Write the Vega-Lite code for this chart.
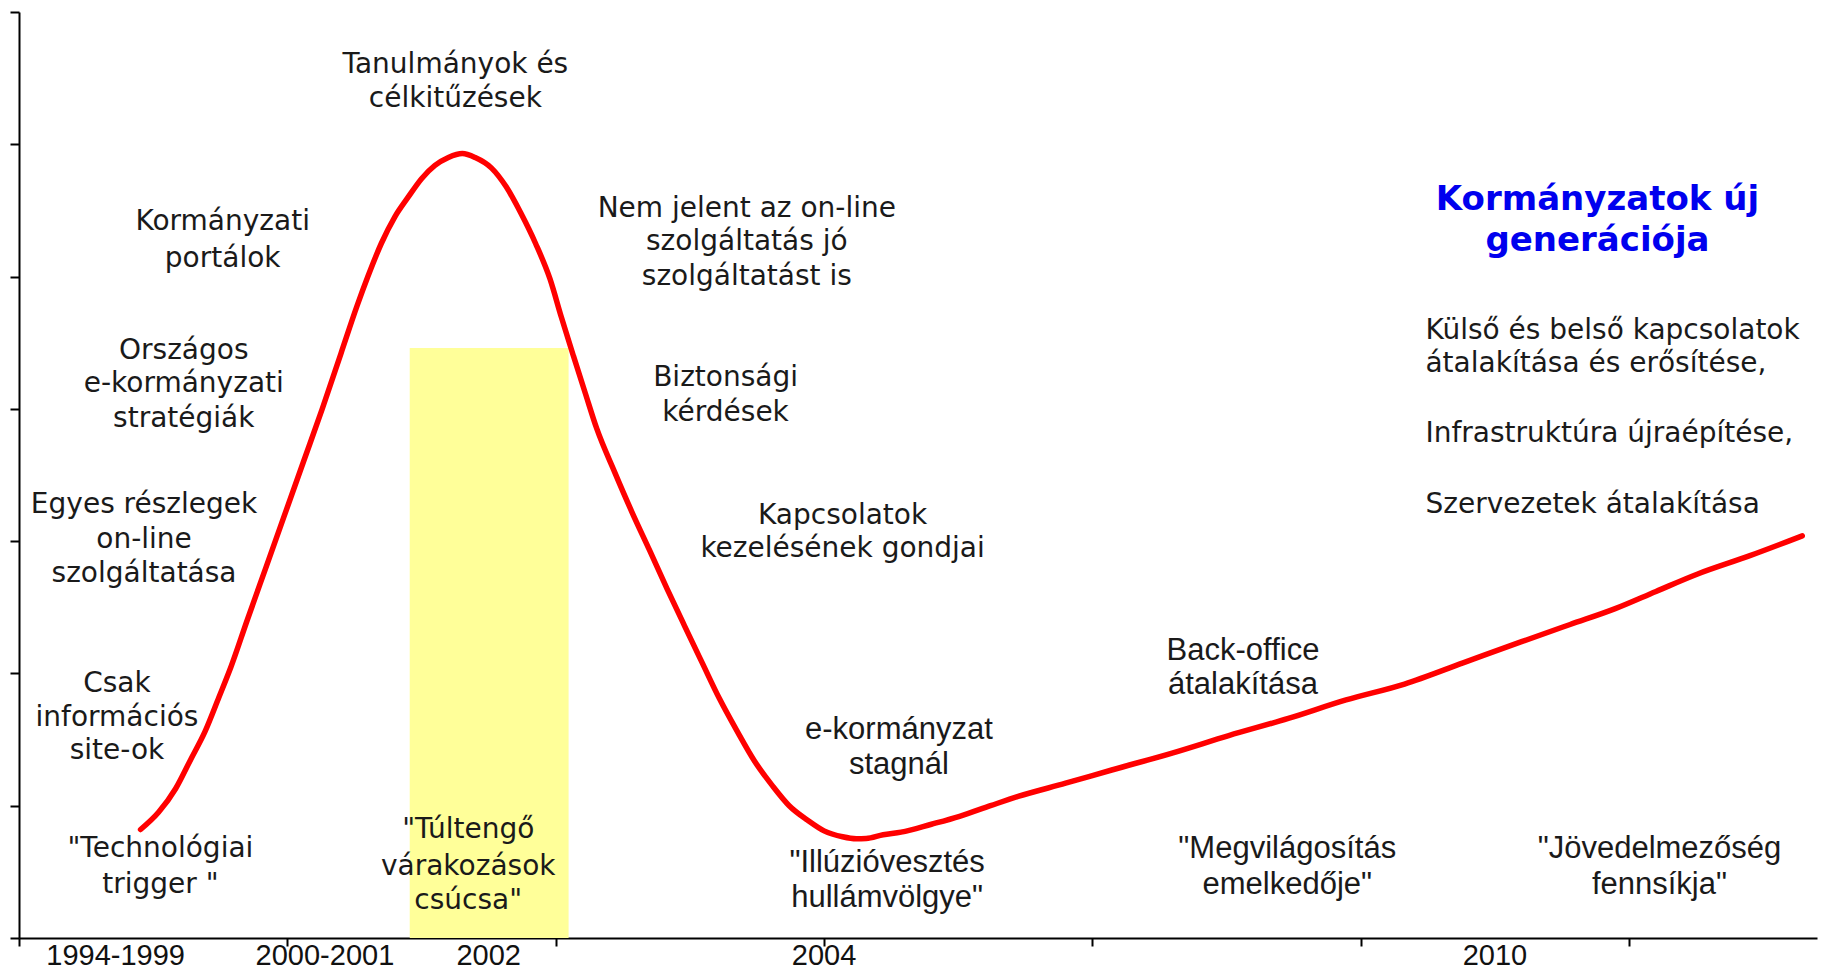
{
  "$schema": "https://vega.github.io/schema/vega-lite/v6.json",
  "width": 1798,
  "height": 926,
  "autosize": {"type": "none"},
  "padding": {"left": 19, "top": 12, "right": 19, "bottom": 32},
  "background": "white",
  "config": {"view": {"stroke": null}},
  "datasets": {
    "band": [{"x1": 1.456, "x2": 2.048, "y1": 0, "y2": 4.46}],
    "curve": [
      {"x": 0.453, "y": 0.82}, {"x": 0.52, "y": 0.95}, {"x": 0.584, "y": 1.13}, {"x": 0.64, "y": 1.35},
      {"x": 0.693, "y": 1.56}, {"x": 0.745, "y": 1.82}, {"x": 0.79, "y": 2.05}, {"x": 0.85, "y": 2.4},
      {"x": 0.92, "y": 2.8}, {"x": 0.99, "y": 3.2}, {"x": 1.06, "y": 3.6}, {"x": 1.13, "y": 4.0},
      {"x": 1.2, "y": 4.42}, {"x": 1.26, "y": 4.78}, {"x": 1.3, "y": 5.0}, {"x": 1.35, "y": 5.25},
      {"x": 1.4, "y": 5.45}, {"x": 1.45, "y": 5.6}, {"x": 1.5, "y": 5.74}, {"x": 1.55, "y": 5.84},
      {"x": 1.6, "y": 5.9}, {"x": 1.652, "y": 5.93}, {"x": 1.7, "y": 5.9}, {"x": 1.761, "y": 5.82},
      {"x": 1.815, "y": 5.68}, {"x": 1.87, "y": 5.48}, {"x": 1.925, "y": 5.25}, {"x": 1.979, "y": 4.98},
      {"x": 2.02, "y": 4.7}, {"x": 2.066, "y": 4.4}, {"x": 2.11, "y": 4.12}, {"x": 2.153, "y": 3.85},
      {"x": 2.22, "y": 3.52}, {"x": 2.284, "y": 3.22}, {"x": 2.35, "y": 2.93}, {"x": 2.415, "y": 2.64},
      {"x": 2.48, "y": 2.36}, {"x": 2.546, "y": 2.08}, {"x": 2.61, "y": 1.81}, {"x": 2.677, "y": 1.56},
      {"x": 2.74, "y": 1.34}, {"x": 2.808, "y": 1.15}, {"x": 2.87, "y": 1.0}, {"x": 2.939, "y": 0.89},
      {"x": 3.0, "y": 0.81}, {"x": 3.069, "y": 0.765}, {"x": 3.12, "y": 0.75}, {"x": 3.157, "y": 0.752},
      {"x": 3.22, "y": 0.78}, {"x": 3.287, "y": 0.8}, {"x": 3.4, "y": 0.86}, {"x": 3.505, "y": 0.92},
      {"x": 3.62, "y": 1.0}, {"x": 3.723, "y": 1.07}, {"x": 3.9, "y": 1.17}, {"x": 4.072, "y": 1.27},
      {"x": 4.3, "y": 1.4}, {"x": 4.508, "y": 1.53}, {"x": 4.73, "y": 1.66}, {"x": 4.945, "y": 1.8},
      {"x": 5.163, "y": 1.92}, {"x": 5.381, "y": 2.08}, {"x": 5.599, "y": 2.24}, {"x": 5.78, "y": 2.37},
      {"x": 5.948, "y": 2.49}, {"x": 6.1, "y": 2.62}, {"x": 6.253, "y": 2.75}, {"x": 6.45, "y": 2.89},
      {"x": 6.645, "y": 3.04}
    ],
    "periods": [
      {"x": 0.36, "y": -0.135, "t": "1994-1999"},
      {"x": 1.14, "y": -0.135, "t": "2000-2001"},
      {"x": 1.75, "y": -0.135, "t": "2002"},
      {"x": 3.0, "y": -0.135, "t": "2004"},
      {"x": 5.5, "y": -0.135, "t": "2010"}
    ],
    "notes": [
      {"kind": "wide", "x": 1.626, "y": 6.6, "t": "Tanulmányok és"},
      {"kind": "wide", "x": 1.626, "y": 6.34, "t": "célkitűzések"},
      {"kind": "wide", "x": 0.759, "y": 5.41, "t": "Kormányzati"},
      {"kind": "wide", "x": 0.759, "y": 5.13, "t": "portálok"},
      {"kind": "wide", "x": 0.614, "y": 4.44, "t": "Országos"},
      {"kind": "wide", "x": 0.614, "y": 4.19, "t": "e-kormányzati"},
      {"kind": "wide", "x": 0.614, "y": 3.92, "t": "stratégiák"},
      {"kind": "wide", "x": 0.466, "y": 3.27, "t": "Egyes részlegek"},
      {"kind": "wide", "x": 0.466, "y": 3.01, "t": "on-line"},
      {"kind": "wide", "x": 0.466, "y": 2.75, "t": "szolgáltatása"},
      {"kind": "wide", "x": 0.365, "y": 1.92, "t": "Csak"},
      {"kind": "wide", "x": 0.365, "y": 1.66, "t": "információs"},
      {"kind": "wide", "x": 0.365, "y": 1.41, "t": "site-ok"},
      {"kind": "wide", "x": 0.527, "y": 0.673, "t": "\"Technológiai"},
      {"kind": "wide", "x": 0.527, "y": 0.398, "t": "trigger \""},
      {"kind": "wide", "x": 1.674, "y": 0.814, "t": "\"Túltengő"},
      {"kind": "wide", "x": 1.674, "y": 0.54, "t": "várakozások"},
      {"kind": "wide", "x": 1.674, "y": 0.283, "t": "csúcsa\""},
      {"kind": "wide", "x": 2.712, "y": 5.51, "t": "Nem jelent az on-line"},
      {"kind": "wide", "x": 2.712, "y": 5.26, "t": "szolgáltatás jó"},
      {"kind": "wide", "x": 2.712, "y": 5.0, "t": "szolgáltatást is"},
      {"kind": "wide", "x": 2.633, "y": 4.23, "t": "Biztonsági"},
      {"kind": "wide", "x": 2.633, "y": 3.97, "t": "kérdések"},
      {"kind": "wide", "x": 3.069, "y": 3.19, "t": "Kapcsolatok"},
      {"kind": "wide", "x": 3.069, "y": 2.94, "t": "kezelésének gondjai"},
      {"kind": "narrow", "x": 3.279, "y": 1.57, "t": "e-kormányzat"},
      {"kind": "narrow", "x": 3.279, "y": 1.31, "t": "stagnál"},
      {"kind": "narrow", "x": 3.235, "y": 0.566, "t": "\"Illúzióvesztés"},
      {"kind": "narrow", "x": 3.235, "y": 0.301, "t": "hullámvölgye\""},
      {"kind": "narrow", "x": 4.561, "y": 2.17, "t": "Back-office"},
      {"kind": "narrow", "x": 4.561, "y": 1.91, "t": "átalakítása"},
      {"kind": "narrow", "x": 4.726, "y": 0.673, "t": "\"Megvilágosítás"},
      {"kind": "narrow", "x": 4.726, "y": 0.398, "t": "emelkedője\""},
      {"kind": "narrow", "x": 6.113, "y": 0.673, "t": "\"Jövedelmezőség"},
      {"kind": "narrow", "x": 6.113, "y": 0.398, "t": "fennsíkja\""},
      {"kind": "title", "x": 5.882, "y": 5.58, "t": "Kormányzatok új"},
      {"kind": "title", "x": 5.882, "y": 5.27, "t": "generációja"},
      {"kind": "list", "x": 5.241, "y": 4.59, "t": "Külső és belső kapcsolatok"},
      {"kind": "list", "x": 5.241, "y": 4.34, "t": "átalakítása és erősítése,"},
      {"kind": "list", "x": 5.241, "y": 3.81, "t": "Infrastruktúra  újraépítése,"},
      {"kind": "list", "x": 5.241, "y": 3.27, "t": "Szervezetek átalakítása"}
    ]
  },
  "layer": [
    {
      "data": {"name": "band"},
      "mark": {"type": "rect", "color": "#FFFF99"},
      "encoding": {
        "x": {
          "field": "x1", "type": "quantitative",
          "scale": {"domain": [0, 6.7], "nice": false, "zero": false},
          "axis": {
            "title": null, "grid": false, "labels": false,
            "values": [0, 1, 2, 3, 4, 5, 6],
            "domainColor": "#000", "domainWidth": 2,
            "tickColor": "#000", "tickWidth": 2, "tickSize": 8
          }
        },
        "x2": {"field": "x2"},
        "y": {
          "field": "y1", "type": "quantitative",
          "scale": {"domain": [0, 7], "nice": false, "zero": false},
          "axis": {
            "title": null, "grid": false, "labels": false,
            "values": [0, 1, 2, 3, 4, 5, 6, 7],
            "domainColor": "#000", "domainWidth": 2,
            "tickColor": "#000", "tickWidth": 2, "tickSize": 9
          }
        },
        "y2": {"field": "y2"}
      }
    },
    {
      "data": {"name": "curve"},
      "mark": {"type": "line", "color": "#FF0000", "strokeWidth": 5.5, "interpolate": "monotone", "strokeCap": "round"},
      "encoding": {
        "x": {"field": "x", "type": "quantitative"},
        "y": {"field": "y", "type": "quantitative"}
      }
    },
    {
      "data": {"name": "periods"},
      "mark": {"type": "text", "font": "Liberation Sans", "fontSize": 29, "color": "#111", "align": "center", "baseline": "middle"},
      "encoding": {
        "x": {"field": "x", "type": "quantitative"},
        "y": {"field": "y", "type": "quantitative"},
        "text": {"field": "t"}
      }
    },
    {
      "data": {"name": "notes"},
      "transform": [{"filter": "datum.kind == 'wide'"}],
      "mark": {"type": "text", "font": "DejaVu Sans", "fontSize": 28, "color": "#1a1a1a", "align": "center", "baseline": "middle"},
      "encoding": {
        "x": {"field": "x", "type": "quantitative"},
        "y": {"field": "y", "type": "quantitative"},
        "text": {"field": "t"}
      }
    },
    {
      "data": {"name": "notes"},
      "transform": [{"filter": "datum.kind == 'narrow'"}],
      "mark": {"type": "text", "font": "Liberation Sans", "fontSize": 31, "color": "#1a1a1a", "align": "center", "baseline": "middle"},
      "encoding": {
        "x": {"field": "x", "type": "quantitative"},
        "y": {"field": "y", "type": "quantitative"},
        "text": {"field": "t"}
      }
    },
    {
      "data": {"name": "notes"},
      "transform": [{"filter": "datum.kind == 'list'"}],
      "mark": {"type": "text", "font": "DejaVu Sans", "fontSize": 28, "color": "#1a1a1a", "align": "left", "baseline": "middle"},
      "encoding": {
        "x": {"field": "x", "type": "quantitative"},
        "y": {"field": "y", "type": "quantitative"},
        "text": {"field": "t"}
      }
    },
    {
      "data": {"name": "notes"},
      "transform": [{"filter": "datum.kind == 'title'"}],
      "mark": {"type": "text", "font": "DejaVu Sans", "fontWeight": "bold", "fontSize": 34, "color": "#0000EE", "align": "center", "baseline": "middle"},
      "encoding": {
        "x": {"field": "x", "type": "quantitative"},
        "y": {"field": "y", "type": "quantitative"},
        "text": {"field": "t"}
      }
    }
  ]
}
